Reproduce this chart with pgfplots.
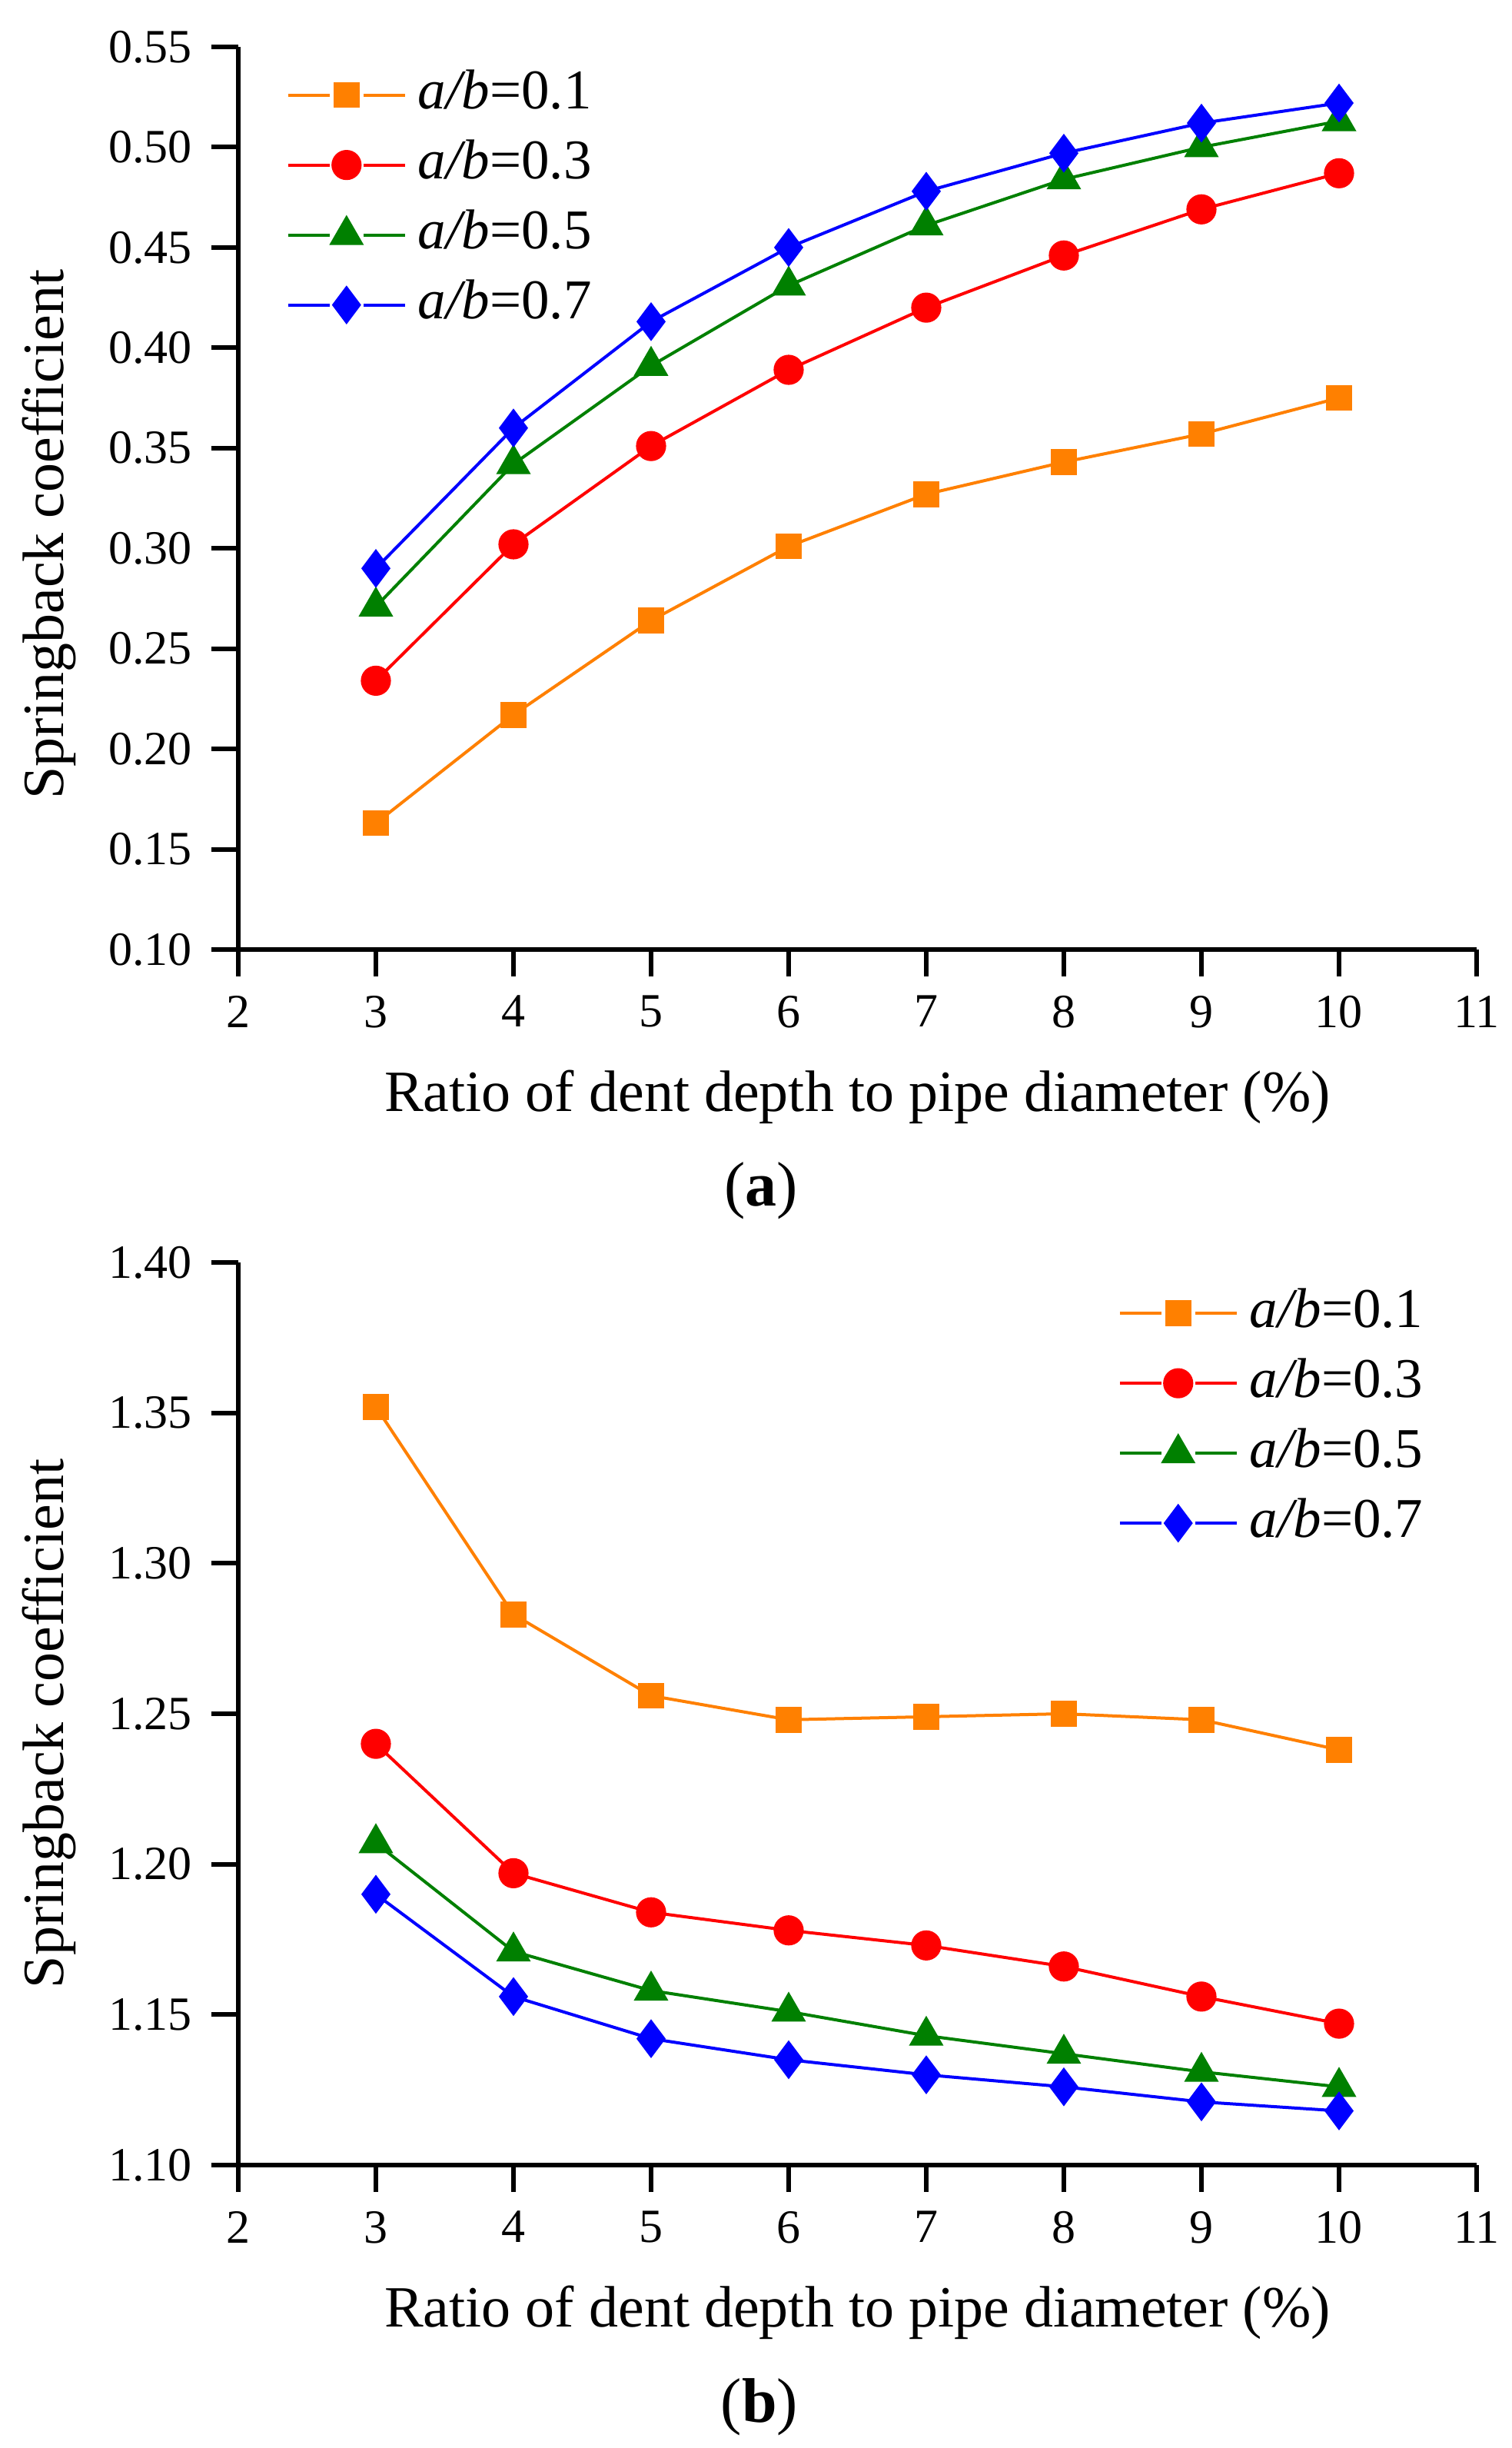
\documentclass[border=0pt]{standalone}
\usepackage{fontspec}
\setmainfont{Liberation Serif}
\usepackage{pgfplots}
\usepackage{pgfplotstable}
\pgfplotsset{compat=1.18}
\definecolor{cOr}{RGB}{255,128,0}
\definecolor{cRe}{RGB}{255,0,0}
\definecolor{cGr}{RGB}{0,128,0}
\definecolor{cBl}{RGB}{0,0,255}

\pgfplotstableread{
x  s1    s3    s5    s7
3  0.163 0.234 0.271 0.290
4  0.217 0.302 0.342 0.360
5  0.264 0.351 0.391 0.413
6  0.301 0.389 0.431 0.450
7  0.327 0.420 0.461 0.478
8  0.343 0.446 0.484 0.497
9  0.357 0.469 0.500 0.512
10 0.375 0.487 0.513 0.522
}\tabA

\pgfplotstableread{
x  s1    s3    s5    s7
3  1.352 1.240 1.207 1.190
4  1.283 1.197 1.171 1.156
5  1.256 1.184 1.158 1.142
6  1.248 1.178 1.151 1.135
7  1.249 1.173 1.143 1.130
8  1.250 1.166 1.137 1.126
9  1.248 1.156 1.131 1.121
10 1.238 1.147 1.126 1.118
}\tabB

\pgfplotsset{springstyle/.style={
  scale only axis, width=402.75pt, height=293.5pt,
  axis lines*=left,
  axis line style={line width=1.5pt, black},
  tick style={line width=1.5pt, black},
  major tick length=8.75pt, tick align=outside,
  xmin=2, xmax=11, xtick={2,3,...,11},
  /pgf/number format/assume math mode=true,
  tick label style={font=\fontsize{15.5}{16}\selectfont},
  yticklabel style={/pgf/number format/.cd, fixed, fixed zerofill, precision=2, /tikz/.cd, xshift=-2.75pt},
  xticklabel style={yshift=-2.75pt},
  label style={font=\fontsize{19}{20}\selectfont},
  xlabel={Ratio of dent depth to pipe diameter (\%)},
  ylabel={Springback coefficient},
  xlabel style={at={(axis description cs:0.5,-0.1635)}, anchor=center},
  legend style={draw=none, fill=none, anchor=north west,
     font=\fontsize{18.25}{19}\selectfont,
     nodes={inner sep=0pt, text height=13.5pt, text depth=4.5pt},
     row sep=4.75pt, column sep=3.75pt, inner sep=0pt},
  legend cell align=left,
  legend image code/.code={%
    \draw[mark=none] (0pt,0pt) -- (13.5pt,0pt);
    \draw[mark=none] (24.5pt,0pt) -- (38pt,0pt);
    \draw plot coordinates {(19pt,0pt)};},
  every axis plot/.append style={line width=1pt},
}}

\begin{document}
\begin{tikzpicture}
\path[use as bounding box] (0,0) rectangle (491.75pt,796pt);

\begin{axis}[springstyle, at={(77.5pt,487.25pt)}, anchor=south west,
  ymin=0.10, ymax=0.55, ytick={0.10,0.15,...,0.56},
  ylabel style={at={(axis description cs:-0.1527,0.46)}, anchor=center},
  legend style={at={(axis description cs:0.0385,0.978)}}]
\addplot[color=cOr, mark=square*, mark size=3.7pt] table[x=x,y=s1] {\tabA};
\addlegendentry{\textit{a/b}=0.1}
\addplot[color=cRe, mark=*, mark size=4.4pt] table[x=x,y=s3] {\tabA};
\addlegendentry{\textit{a/b}=0.3}
\addplot[color=cGr, mark=triangle*, mark size=5.5pt] table[x=x,y=s5] {\tabA};
\addlegendentry{\textit{a/b}=0.5}
\addplot[color=cBl, mark=diamond*, mark size=5.5pt] table[x=x,y=s7] {\tabA};
\addlegendentry{\textit{a/b}=0.7}
\end{axis}

\node[font=\fontsize{20.5}{21}\selectfont] at (247.5pt,408.75pt) {(\textbf{a})};

\begin{axis}[springstyle, at={(77.5pt,92pt)}, anchor=south west,
  ymin=1.10, ymax=1.40, ytick={1.10,1.15,...,1.41},
  ylabel style={at={(axis description cs:-0.1527,0.489)}, anchor=center},
  legend style={at={(axis description cs:0.7101,0.975)}}]
\addplot[color=cOr, mark=square*, mark size=3.7pt] table[x=x,y=s1] {\tabB};
\addlegendentry{\textit{a/b}=0.1}
\addplot[color=cRe, mark=*, mark size=4.4pt] table[x=x,y=s3] {\tabB};
\addlegendentry{\textit{a/b}=0.3}
\addplot[color=cGr, mark=triangle*, mark size=5.5pt] table[x=x,y=s5] {\tabB};
\addlegendentry{\textit{a/b}=0.5}
\addplot[color=cBl, mark=diamond*, mark size=5.5pt] table[x=x,y=s7] {\tabB};
\addlegendentry{\textit{a/b}=0.7}
\end{axis}

\node[font=\fontsize{20.5}{21}\selectfont] at (247pt,13.25pt) {(\textbf{b})};
\end{tikzpicture}
\end{document}
